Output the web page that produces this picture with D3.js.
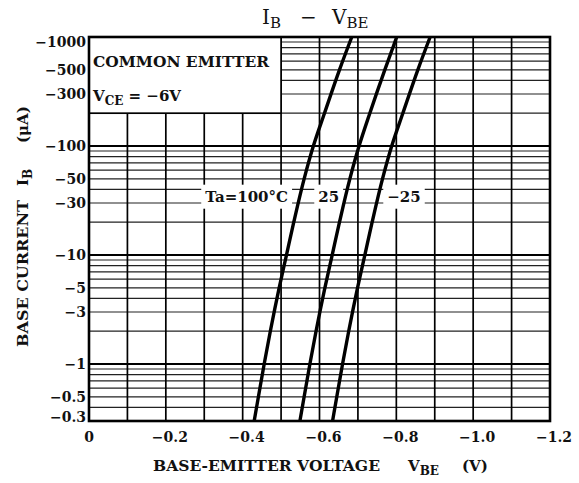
<!DOCTYPE html>
<html>
<head>
<meta charset="UTF-8">
<title>IB - VBE</title>
<script src="https://d3js.org/d3.v7.min.js"></script>
<style>
  body { margin: 0; background: #fff; }
  text { font-family: "DejaVu Serif", "Liberation Serif", serif; fill: #111; }
</style>
</head>
<body>
<svg id="chart"></svg>
<script>
// data (VBE in V, IB in uA)
const currentUA = [-0.3, -0.5, -1, -2, -5, -10, -20, -50, -100, -200, -500, -1000];
const vbeTa100 = [-0.430, -0.441, -0.456, -0.472, -0.495, -0.514, -0.533, -0.560, -0.584, -0.613, -0.652, -0.684];
const vbeTa25 = [-0.549, -0.560, -0.575, -0.591, -0.614, -0.633, -0.652, -0.679, -0.703, -0.731, -0.770, -0.801];
const vbeTaM25 = [-0.634, -0.645, -0.660, -0.676, -0.699, -0.718, -0.737, -0.764, -0.788, -0.817, -0.856, -0.888];
const seriesLabels = ["Ta=100°C", "25", "\u221225"];

const xTicks = [0, -0.2, -0.4, -0.6, -0.8, -1.0, -1.2];
const yTicks = [-1000, -500, -300, -100, -50, -30, -10, -5, -3, -1, -0.5, -0.3];

const W = 579, H = 483;
const margins = {top: 37, bottom: 62, left: 89, right: 29};

const svg = d3.select("#chart").attr("width", W).attr("height", H);

const x = d3.scaleLinear().domain([0, -1.2]).range([margins.left, W - margins.right]);
const y = d3.scaleLog().domain([-0.3, -1000]).range([H - margins.bottom, margins.top]);

const minus = v => v === 0 ? "0" : "\u2212" + Math.abs(v);

// grid: every 0.1 V, and 1..9 per decade
const vGrid = d3.range(1, 12).map(i => -i / 10);
const hGrid = [];
[0.1, 1, 10, 100].forEach(dec => {
  for (let k = 1; k <= 9; k++) {
    const v = k * dec;
    if (v > 0.3 && v < 1000) hGrid.push(-v);
  }
});
const isDecade = d => Math.abs(Math.log10(-d) % 1) < 1e-9;

const grid = svg.append("g");
grid.selectAll("line.h").data(hGrid).enter().append("line")
  .attr("x1", x(0)).attr("x2", x(-1.2))
  .attr("y1", d => y(d)).attr("y2", d => y(d))
  .attr("stroke", d => isDecade(d) ? "#000" : "#222")
  .attr("stroke-width", d => isDecade(d) ? 2 : 1.2);
grid.selectAll("line.v").data(vGrid).enter().append("line")
  .attr("y1", y(-0.3)).attr("y2", y(-1000))
  .attr("x1", d => x(d)).attr("x2", d => x(d))
  .attr("stroke", "#000").attr("stroke-width", 1.7);

// condition box, top-left
svg.append("rect")
  .attr("x", x(0)).attr("y", y(-1000))
  .attr("width", x(-0.5) - x(0)).attr("height", y(-200) - y(-1000))
  .attr("fill", "#fff").attr("stroke", "#000").attr("stroke-width", 1.7);
svg.append("text").attr("x", x(0) + 4).attr("y", 67)
  .attr("font-size", 15).attr("font-weight", "bold")
  .attr("textLength", 176).attr("lengthAdjust", "spacingAndGlyphs")
  .text("COMMON EMITTER");
const vce = svg.append("text").attr("x", x(0) + 4).attr("y", 101)
  .attr("font-size", 15).attr("font-weight", "bold");
vce.append("tspan").text("V");
vce.append("tspan").attr("font-size", 12).attr("dy", 4).text("CE");
vce.append("tspan").attr("dy", -4).text(" = \u22126V");

// series labels with white backing
const labelAt = [
  {v: -0.518, anchor: "end"},
  {v: -0.624, anchor: "middle"},
  {v: -0.82, anchor: "middle"}
];
const labelY = y(-35) + 6;
const labels = svg.append("g");
seriesLabels.forEach((s, i) => {
  const t = labels.append("text")
    .attr("x", x(labelAt[i].v)).attr("y", labelY)
    .attr("text-anchor", labelAt[i].anchor)
    .attr("font-size", 15).attr("font-weight", "bold")
    .text(s);
  const b = t.node().getBBox();
  labels.insert("rect", "text")
    .attr("x", b.x - 4).attr("y", labelY - 17)
    .attr("width", b.width + 8).attr("height", 24)
    .attr("fill", "#fff");
});

// curves
const line = d3.line()
  .x(d => x(d[0])).y(d => y(d[1]))
  .curve(d3.curveMonotoneY);
[vbeTa100, vbeTa25, vbeTaM25].forEach(s => {
  svg.append("path")
    .datum(s.map((v, i) => [v, currentUA[i]]))
    .attr("d", line)
    .attr("fill", "none").attr("stroke", "#000").attr("stroke-width", 3.4);
});

// frame
svg.append("rect")
  .attr("x", x(0)).attr("y", y(-1000))
  .attr("width", x(-1.2) - x(0)).attr("height", y(-0.3) - y(-1000))
  .attr("fill", "none").attr("stroke", "#000").attr("stroke-width", 2.6);

// tick labels
svg.append("g").selectAll("text").data(yTicks).enter().append("text")
  .attr("x", x(0) - 3)
  .attr("y", d => Math.min(Math.max(y(d), 42), 417))
  .attr("dy", "0.36em")
  .attr("text-anchor", "end")
  .attr("font-size", 14).attr("font-weight", "bold")
  .text(minus);

svg.append("g").selectAll("text").data(xTicks).enter().append("text")
  .attr("x", d => x(d) + (d === 0 ? 0 : 4))
  .attr("y", 442)
  .attr("text-anchor", "middle")
  .attr("font-size", 14).attr("font-weight", "bold")
  .text(d => d === 0 ? "0" : "\u2212" + Math.abs(d).toFixed(1));

// title
const title = svg.append("text").attr("x", 262).attr("y", 24)
  .attr("font-size", 20);
title.append("tspan").text("I");
title.append("tspan").attr("font-size", 15).attr("dy", 4).text("B");
title.append("tspan").attr("x", 300).attr("dy", -4).text("\u2212");
title.append("tspan").attr("x", 332).text("V");
title.append("tspan").attr("font-size", 15).attr("dy", 4).text("BE");

// axis titles
const xt = svg.append("text").attr("x", 153).attr("y", 471)
  .attr("font-size", 15).attr("font-weight", "bold");
xt.append("tspan").attr("textLength", 227).attr("lengthAdjust", "spacingAndGlyphs")
  .text("BASE-EMITTER VOLTAGE");
xt.append("tspan").attr("x", 408).text("V");
xt.append("tspan").attr("font-size", 12).attr("dy", 4).text("BE");
xt.append("tspan").attr("x", 462).attr("dy", -4).text("(V)");

const yt = svg.append("g").attr("transform", "translate(28,0) rotate(-90)");
yt.append("text").attr("x", -347).attr("y", 0)
  .attr("font-size", 15).attr("font-weight", "bold")
  .attr("textLength", 147).attr("lengthAdjust", "spacingAndGlyphs")
  .text("BASE CURRENT");
const ib = yt.append("text").attr("x", -186).attr("y", 0)
  .attr("font-size", 15).attr("font-weight", "bold");
ib.append("tspan").text("I");
ib.append("tspan").attr("font-size", 12).attr("dy", 4).text("B");
yt.append("text").attr("x", -143).attr("y", 0)
  .attr("font-size", 15).attr("font-weight", "bold").text("(\u03bcA)");
</script>
</body>
</html>
